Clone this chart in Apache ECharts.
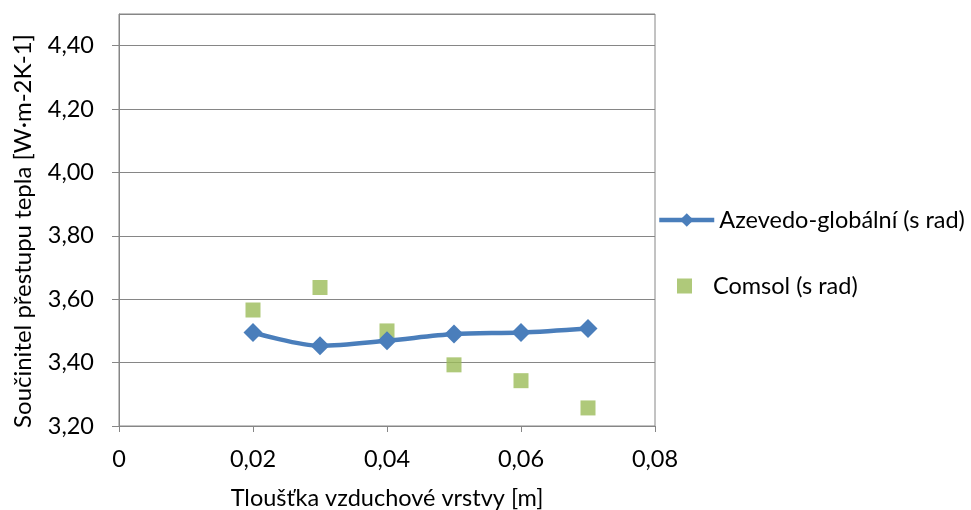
<!DOCTYPE html>
<html><head><meta charset="utf-8">
<script src="https://cdn.jsdelivr.net/npm/echarts@6/dist/echarts.min.js"></script>
<style>html,body{margin:0;padding:0;background:#fff}#c{width:971px;height:510px}</style>
</head><body><div id="c"></div>
<script>
const xValues = [0.02, 0.03, 0.04, 0.05, 0.06, 0.07];
const azevedo = [3.495, 3.453, 3.469, 3.490, 3.495, 3.508];
const comsol = [3.566, 3.637, 3.500, 3.393, 3.343, 3.257];
const seriesNames = ['Azevedo-globální (s rad)', 'Comsol (s rad)'];
const xTitle = 'Tloušťka vzduchové vrstvy [m]';
const yTitle = 'Součinitel přestupu tepla [W·m-2K-1]';

const font = 'Lato, "Open Sans", sans-serif';
const fs = 23.5;
const blue = '#4A7EBB', green = '#9BBB59', gray = '#868686';
const fmt = (v, d) => v.toFixed(d).replace('.', ',');
const chart = echarts.init(document.getElementById('c'));
chart.setOption({
  animation: false,
  grid: {left: 119, right: 316, top: 14, bottom: 84, show: true, borderColor: gray, borderWidth: 1,
         containLabel: false, outerBoundsMode: 'none'},
  legend: [
    {
      orient: 'vertical', left: 657, top: 208, padding: 0, itemWidth: 55, itemHeight: 17,
      textStyle: {fontFamily: font, fontSize: 23.5, color: '#000'},
      data: [{name: seriesNames[0], lineStyle: {width: 4.5}}]
    },
    {
      orient: 'vertical', left: 677, top: 274, padding: 0, itemWidth: 15, itemHeight: 15,
      textStyle: {fontFamily: font, fontSize: 23.5, color: '#000', padding: [0, 0, 0, 16]},
      data: [{name: seriesNames[1]}]
    }
  ],
  graphic: [{
    type: 'text', x: 23, y: 231, rotation: Math.PI / 2,
    style: {text: yTitle, font: '24px ' + font, fill: '#000', align: 'center', verticalAlign: 'middle'}
  }],
  xAxis: {
    type: 'value', min: 0, max: 0.08, interval: 0.02,
    name: xTitle, nameLocation: 'middle', nameGap: 60,
    nameTextStyle: {fontFamily: font, fontSize: fs, color: '#000'},
    axisLine: {lineStyle: {color: gray}},
    axisTick: {show: true, length: 6, lineStyle: {color: gray}},
    axisLabel: {fontFamily: font, fontSize: fs, color: '#000', margin: 21, formatter: v => v === 0 ? '0' : fmt(v, 2)},
    splitLine: {show: false}
  },
  yAxis: {
    type: 'value', min: 3.2, max: 4.5, interval: 0.2,
    axisLine: {show: true, lineStyle: {color: gray}},
    axisTick: {show: true, length: 7, lineStyle: {color: gray}},
    axisLabel: {fontFamily: font, fontSize: fs, color: '#000', margin: 25, showMaxLabel: false, formatter: v => fmt(v, 2)},
    splitLine: {show: true, lineStyle: {color: gray, width: 1}}
  },
  series: [
    {
      name: seriesNames[0], type: 'line', smooth: 0.3,
      data: xValues.map((x, i) => [x, azevedo[i]]),
      symbol: 'diamond', symbolSize: 19,
      lineStyle: {color: blue, width: 4.5},
      itemStyle: {color: blue}
    },
    {
      name: seriesNames[1], type: 'scatter',
      data: xValues.map((x, i) => [x, comsol[i]]),
      symbol: 'rect', symbolSize: 15,
      itemStyle: {color: green}
    }
  ]
});
</script></body></html>
